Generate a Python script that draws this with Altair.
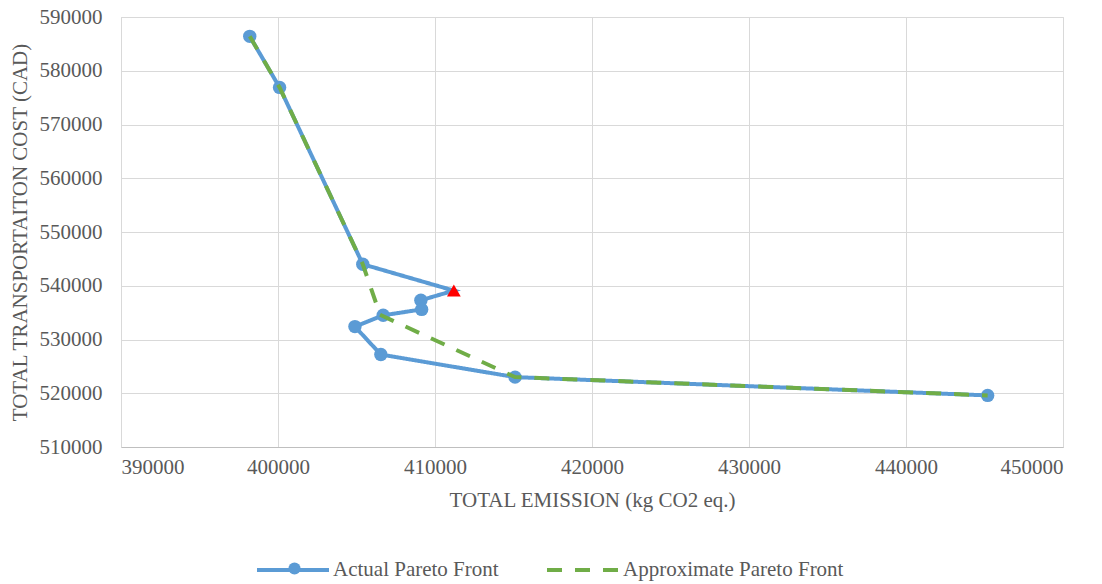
import altair as alt
import pandas as pd

actual_x = [398200, 400100, 405400, 411200, 409100, 409150, 406700, 404900, 406550, 415100, 445200]
actual_y = [586400, 576900, 544000, 539100, 537300, 535600, 534500, 532400, 527200, 523000, 519600]
actual_marker = ["circle", "circle", "circle", "triangle", "circle", "circle", "circle", "circle", "circle", "circle", "circle"]

approx_x = [398200, 400100, 405400, 406500, 415100, 445200]
approx_y = [586400, 576900, 544000, 534600, 523000, 519600]

series_names = ["Actual Pareto Front", "Approximate Pareto Front"]

actual = pd.DataFrame({"x": actual_x, "y": actual_y, "marker": actual_marker,
                       "i": list(range(len(actual_x))), "series": series_names[0]})
approx = pd.DataFrame({"x": approx_x, "y": approx_y,
                       "i": list(range(len(approx_x))), "series": series_names[1]})

FONT = "Times New Roman, Liberation Serif, DejaVu Serif, serif"
TXT = "#595959"
BLUE = "#5B9BD5"
GREEN = "#70AD47"
FS = 21

xs = alt.Scale(domain=[390000, 450000], nice=False, zero=False)
ys = alt.Scale(domain=[510000, 590000], nice=False, zero=False)

xenc = alt.X("x:Q", scale=xs, axis=alt.Axis(
    title="TOTAL EMISSION (kg CO2 eq.)", values=list(range(390000, 450001, 10000)),
    format="d", grid=True, gridColor="#D9D9D9", domainColor="#BFBFBF", ticks=False,
    labelFont=FONT, labelFontSize=FS, labelColor=TXT, labelPadding=9,
    titleFont=FONT, titleFontSize=FS, titleColor=TXT, titleFontWeight="normal", titlePadding=12))
yenc = alt.Y("y:Q", scale=ys, axis=alt.Axis(
    title="TOTAL TRANSPORTAITON COST (CAD)", values=list(range(510000, 590001, 10000)),
    format="d", grid=True, gridColor="#D9D9D9", domainColor="#D9D9D9", ticks=False,
    labelFont=FONT, labelFontSize=FS, labelColor=TXT, labelPadding=19,
    titleFont=FONT, titleFontSize=FS, titleColor=TXT, titleFontWeight="normal", titlePadding=9))

SYM = 72
LX, LY = 134, 568 - 17 - SYM / 2


def leg():
    return alt.Legend(title=None, orient="none", legendX=LX, legendY=LY, padding=0,
                      direction="horizontal", symbolType="stroke",
                      symbolSize=SYM * SYM, symbolStrokeWidth=4,
                      labelFont=FONT, labelFontSize=FS, labelColor=TXT, labelLimit=0,
                      columnPadding=40, labelOffset=2)


color = alt.Color("series:N", scale=alt.Scale(domain=series_names, range=[BLUE, GREEN]), legend=leg())
dash = alt.StrokeDash("series:N", scale=alt.Scale(domain=series_names, range=[[1, 0], [15, 13]]), legend=leg())

line_a = alt.Chart(actual).mark_line(strokeWidth=4).encode(
    x=xenc, y=yenc, order="i:Q", color=color, strokeDash=dash)
pts_a = alt.Chart(actual).transform_filter(alt.datum.marker == "circle").mark_point(
    filled=True, size=180, opacity=1, color=BLUE).encode(
    x="x:Q", y="y:Q",
    shape=alt.Shape("series:N", scale=alt.Scale(domain=[series_names[0]], range=["circle"]),
                    legend=alt.Legend(title=None, orient="none", padding=0,
                                      legendX=LX + SYM / 2 - 3, legendY=568 - 17 - 6,
                                      symbolSize=150, symbolFillColor=BLUE, symbolStrokeColor=BLUE,
                                      symbolStrokeWidth=0, labelOpacity=0, labelFontSize=1,
                                      labelOffset=0)))
tri = alt.Chart(actual).transform_filter(alt.datum.marker == "triangle").mark_point(
    shape="triangle-up", filled=True, size=190, opacity=1, color="#FF0000").encode(x="x:Q", y="y:Q")
line_b = alt.Chart(approx).mark_line(strokeWidth=4).encode(
    x="x:Q", y="y:Q", order="i:Q", color=color, strokeDash=dash)

chart = alt.layer(line_a, pts_a, tri, line_b).properties(
    width=942, height=430,
    autosize=alt.AutoSizeParams(type="none"),
    padding={"left": 121, "top": 17, "right": 39, "bottom": 137},
).configure_view(stroke=None).configure(background="white")

chart.save("out.html", embed_options={"renderer": "svg", "actions": False})
